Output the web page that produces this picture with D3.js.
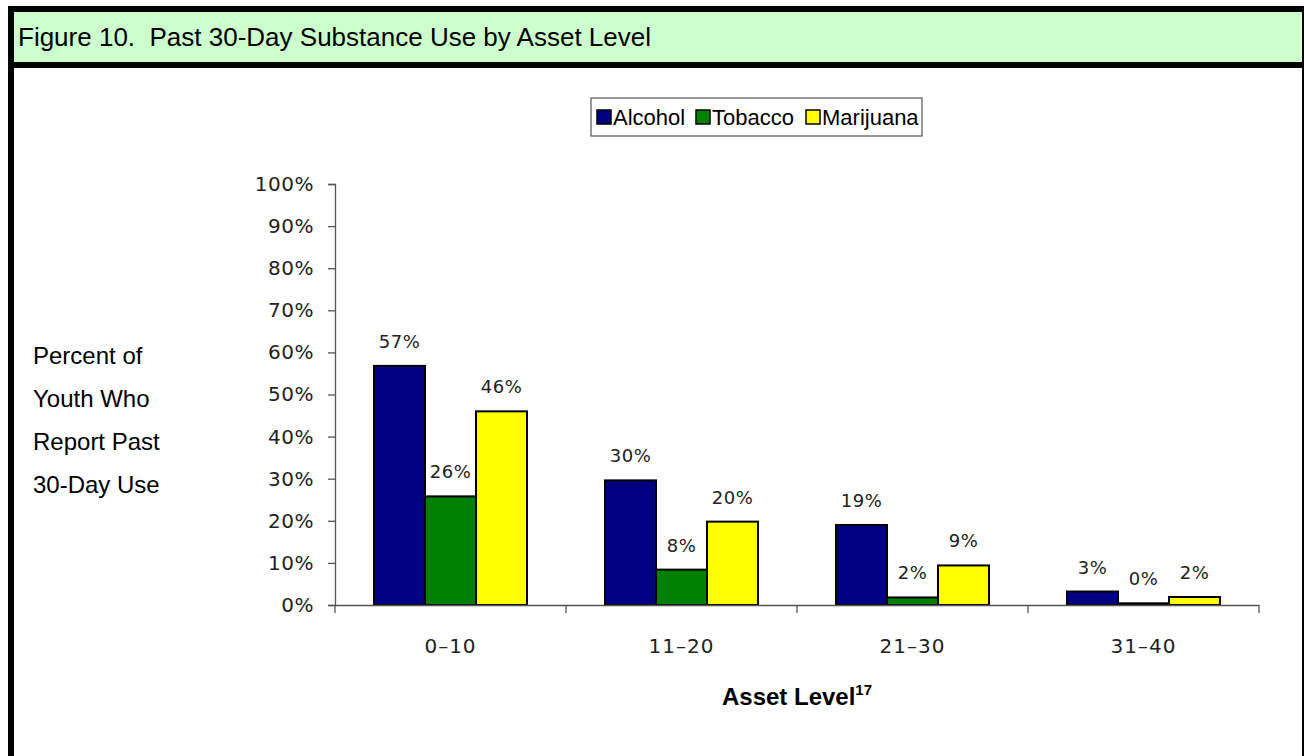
<!DOCTYPE html>
<html>
<head>
<meta charset="utf-8">
<script src="https://cdn.jsdelivr.net/npm/d3@7"></script>
<style>
  body { margin: 0; background: #fff; }
  svg { display: block; }
</style>
</head>
<body>
<div id="chart"></div>
<script>
// data
var categories = ["0\u201310", "11\u201320", "21\u201330", "31\u201340"];
var series = ["Alcohol", "Tobacco", "Marijuana"];
var alcohol = [56.8, 29.6, 19.0, 3.2];
var tobacco = [25.8, 8.4, 1.8, 0.4];
var marijuana = [46.0, 19.8, 9.4, 1.9];
var yTicks = [0, 10, 20, 30, 40, 50, 60, 70, 80, 90, 100];
var colors = ["#000080", "#008000", "#ffff00"];

var svgWidth = 1304;
var svgHeight = 756;

var svg = d3.select("#chart")
  .append("svg")
  .attr("width", svgWidth)
  .attr("height", svgHeight);

var arial = "Liberation Sans, Arial, sans-serif";
var tickFont = "DejaVu Sans, Verdana, sans-serif";

// frame + header
svg.append("rect").attr("x", 8).attr("y", 6).attr("width", 1300).attr("height", 800).attr("fill", "#000");
svg.append("rect").attr("x", 14).attr("y", 12).attr("width", 1288).attr("height", 50).attr("fill", "#ccffcc");
svg.append("rect").attr("x", 14).attr("y", 68).attr("width", 1288).attr("height", 700).attr("fill", "#fff");

svg.append("text")
  .attr("x", 18)
  .attr("y", 46)
  .attr("font-family", arial)
  .attr("font-size", "26px")
  .attr("fill", "#000")
  .text("Figure 10.\u00a0\u00a0Past 30-Day Substance Use by Asset Level");

var table = categories.map(function(c, i) {
  return { cat: c, values: [alcohol[i], tobacco[i], marijuana[i]] };
});

// scales
var x0 = d3.scaleBand()
  .domain(categories)
  .range([335, 1259]);

var x1 = d3.scaleBand()
  .domain(series)
  .range([0, x0.bandwidth()])
  .paddingOuter(0.765);

var y = d3.scaleLinear()
  .domain([0, 100])
  .range([605, 184]);

// y axis
var yAxis = svg.append("g")
  .attr("transform", "translate(335,0)")
  .call(d3.axisLeft(y).tickValues(yTicks).tickSize(7).tickPadding(14).tickFormat(d => d + "%"));
yAxis.selectAll("text")
  .attr("font-family", tickFont)
  .attr("font-size", "20px")
  .attr("letter-spacing", "0.5px")
  .attr("fill", "#222");
yAxis.selectAll("line, path").attr("stroke", "#555").attr("stroke-width", 1.3);

// bars
var groups = svg.selectAll(".grp")
  .data(table)
  .enter()
  .append("g")
  .attr("class", "grp")
  .attr("transform", d => `translate(${x0(d.cat)},0)`);

groups.selectAll("rect")
  .data(d => d.values.map((v, i) => ({ s: series[i], v: v, c: colors[i] })))
  .enter()
  .append("rect")
  .attr("x", d => x1(d.s))
  .attr("y", d => y(d.v))
  .attr("width", x1.bandwidth())
  .attr("height", d => y(0) - y(d.v))
  .attr("fill", d => d.c)
  .attr("stroke", "#000")
  .attr("stroke-width", 2);

groups.selectAll(".lbl")
  .data(d => d.values.map((v, i) => ({ s: series[i], v: v })))
  .enter()
  .append("text")
  .attr("class", "lbl")
  .attr("x", d => x1(d.s) + x1.bandwidth() / 2)
  .attr("y", d => y(d.v) - 18)
  .attr("text-anchor", "middle")
  .attr("font-family", tickFont)
  .attr("font-size", "18px")
  .attr("letter-spacing", "0.5px")
  .attr("fill", "#222")
  .text(d => Math.round(d.v) + "%");

// x axis
var xAxis = svg.append("g")
  .attr("transform", "translate(0,605)")
  .call(d3.axisBottom(x0).tickSize(0).tickPadding(34));
xAxis.select(".domain").attr("stroke", "#555").attr("stroke-width", 1.3);
xAxis.selectAll("text")
  .attr("font-family", tickFont)
  .attr("font-size", "20px")
  .attr("letter-spacing", "1px")
  .attr("fill", "#222");

// boundary ticks between categories
var bounds = categories.map(c => x0(c)).concat([x0.range()[1]]);
svg.append("g")
  .selectAll("line")
  .data(bounds)
  .enter()
  .append("line")
  .attr("x1", d => d)
  .attr("x2", d => d)
  .attr("y1", 605)
  .attr("y2", 613)
  .attr("stroke", "#555")
  .attr("stroke-width", 1.3);

// axis titles
var yTitle = ["Percent of", "Youth Who", "Report Past", "30-Day Use"];
svg.append("g")
  .selectAll("text")
  .data(yTitle)
  .enter()
  .append("text")
  .attr("x", 33)
  .attr("y", (d, i) => 364 + i * 43)
  .attr("font-family", arial)
  .attr("font-size", "24px")
  .attr("fill", "#000")
  .text(d => d);

var xTitle = svg.append("text")
  .attr("x", 797)
  .attr("y", 705)
  .attr("text-anchor", "middle")
  .attr("font-family", arial)
  .attr("font-weight", "bold")
  .attr("font-size", "24px")
  .attr("fill", "#000");
xTitle.append("tspan").text("Asset Level");
xTitle.append("tspan").attr("dy", -10).attr("font-size", "15px").text("17");

// legend
var legend = svg.append("g").attr("transform", "translate(591,98)");
legend.append("rect")
  .attr("width", 331)
  .attr("height", 38)
  .attr("fill", "#fff")
  .attr("stroke", "#555")
  .attr("stroke-width", 1.2);

var legendX = [6, 105, 215];
var items = legend.selectAll(".item")
  .data(series)
  .enter()
  .append("g")
  .attr("class", "item")
  .attr("transform", (d, i) => `translate(${legendX[i]},0)`);
items.append("rect")
  .attr("y", 12)
  .attr("width", 14)
  .attr("height", 14)
  .attr("fill", (d, i) => colors[i])
  .attr("stroke", "#000")
  .attr("stroke-width", 1.5);
items.append("text")
  .attr("x", 16)
  .attr("y", 27)
  .attr("font-family", arial)
  .attr("font-size", "22px")
  .attr("fill", "#000")
  .text(d => d);
</script>
</body>
</html>
